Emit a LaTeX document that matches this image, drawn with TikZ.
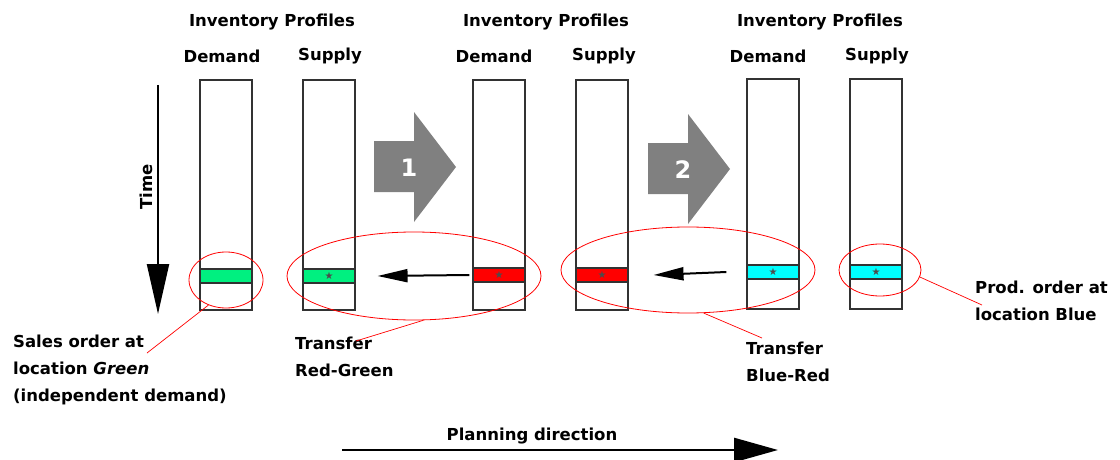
\documentclass[tikz,border=0pt]{standalone}
\usepackage{fontspec}
\setmainfont{DejaVu Sans}
\usetikzlibrary{arrows.meta,calc,shapes.geometric}
\definecolor{bandgreen}{RGB}{0,240,128}
\definecolor{bandred}{RGB}{255,0,0}
\definecolor{bandcyan}{RGB}{0,255,255}
\definecolor{arrgray}{RGB}{128,128,128}
\definecolor{framegray}{RGB}{50,50,50}
\begin{document}
\begin{tikzpicture}[x=1pt,y=-1pt,
  lbl/.style={font=\bfseries\fontsize{16.5}{27}\selectfont, inner sep=0pt},
  col/.style={draw=framegray, line width=1.1pt, minimum width=52pt, minimum height=230pt, inner sep=0pt},
  band/.style={draw=framegray, line width=1.1pt, minimum width=52pt, minimum height=14pt, inner sep=0pt, font=\fontsize{10}{10}\selectfont, text=black!70},
  redell/.style={draw=red, line width=0.8pt, ellipse, inner sep=0pt},
  lead/.style={draw=red, line width=0.7pt},
  bigarrow/.style={fill=arrgray, draw=none},
  smallarr/.style={line width=2pt, -{Triangle[length=30pt,width=13pt]}},
]
\useasboundingbox (0,0) rectangle (1120,460);

% headers
\node[lbl] (h1) at (272,22) {Inventory Profiles};
\node[lbl] (d1) at (222,56) {Demand};
\node[lbl] (s1) at (330,56) {Supply};
\node[lbl] (h2) at (546,22) {Inventory Profiles};
\node[lbl] (d2) at (494,56) {Demand};
\node[lbl] (s2) at (604,56) {Supply};
\node[lbl] (h3) at (820,22) {Inventory Profiles};
\node[lbl] (d3) at (768,56) {Demand};
\node[lbl] (s3) at (877,56) {Supply};

% columns
\node[col] (c1) at (226,195) {};
\node[col] (c2) at (329,195) {};
\node[col] (c3) at (499,195) {};
\node[col] (c4) at (602,195) {};
\node[col] (c5) at (773,194) {};
\node[col] (c6) at (876,194) {};

% bands
\node[band, fill=bandgreen] (b1) at (226,276) {};
\node[band, fill=bandgreen] (b2) at (329,276) {★};
\node[band, fill=bandred] (b3) at (499,275) {★};
\node[band, fill=bandred] (b4) at (602,275) {★};
\node[band, fill=bandcyan] (b5) at (773,272) {★};
\node[band, fill=bandcyan] (b6) at (876,272) {★};

% time arrow
\coordinate (tt) at (158,85);
\coordinate (tb) at (158,314);
\draw[line width=2.2pt, -{Triangle[length=50pt,width=22pt]}] (tt) -- (tb);
\node[lbl, rotate=90] (time) at (146,187) {Time};

% big gray arrows
\fill[bigarrow] (374,141) -- (414,141) -- (414,112) -- (456,167) -- (414,222) -- (414,192) -- (374,192) -- cycle;
\node[font=\bfseries\fontsize{24}{24}\selectfont, text=white] (n1) at (409,168) {1};
\fill[bigarrow] (648,143) -- (688,143) -- (688,114) -- (730,169) -- (688,224) -- (688,194) -- (648,194) -- cycle;
\node[font=\bfseries\fontsize{24}{24}\selectfont, text=white] (n2) at (683,170) {2};

% small transfer arrows
\draw[smallarr] ($(b3.west)+(-3,0)$) -- ($(b2.east)+(22,0)$);
\draw[smallarr] ($(b5.west)+(-20,0)$) -- ($(b4.east)+(25,0)$);

% red ellipses
\node[redell, minimum width=74pt, minimum height=56pt] (e1) at (226,280) {};
\node[redell, minimum width=254pt, minimum height=88pt] (e2) at (414,276) {};
\node[redell, minimum width=254pt, minimum height=86pt] (e3) at (688,270) {};
\node[redell, minimum width=82pt, minimum height=52pt] (e4) at (880,270) {};

% labels
\node[lbl, anchor=north west, align=left] (t1) at (13,335) {Sales order at\\location \textit{Green}\\(independent demand)};
\node[lbl, anchor=north west, align=left] (t2) at (295,337) {Transfer\\Red-Green};
\node[lbl, anchor=north west, align=left] (t3) at (746,342) {Transfer\\Blue-Red};
\node[lbl, anchor=north west, align=left] (t4) at (975,281) {Prod. order at\\location Blue};

% leader lines
\coordinate (l1) at (147,353);
\draw[lead] (e1.235) -- (l1);
\coordinate (l2) at (356,341);
\draw[lead] (e2.282) -- (l2);
\coordinate (l3) at (762,338);
\draw[lead] (e3.290) -- (l3);
\coordinate (l4) at (982,305);
\draw[lead] (e4.-10) -- (l4);

% planning direction
\node[lbl] (pd) at (532,436) {Planning direction};
\coordinate (ps) at (342,450);
\coordinate (pe) at (778,450);
\draw[line width=2.6pt, -{Triangle[length=44pt,width=24pt]}] (ps) -- (pe);
\end{tikzpicture}
\end{document}
